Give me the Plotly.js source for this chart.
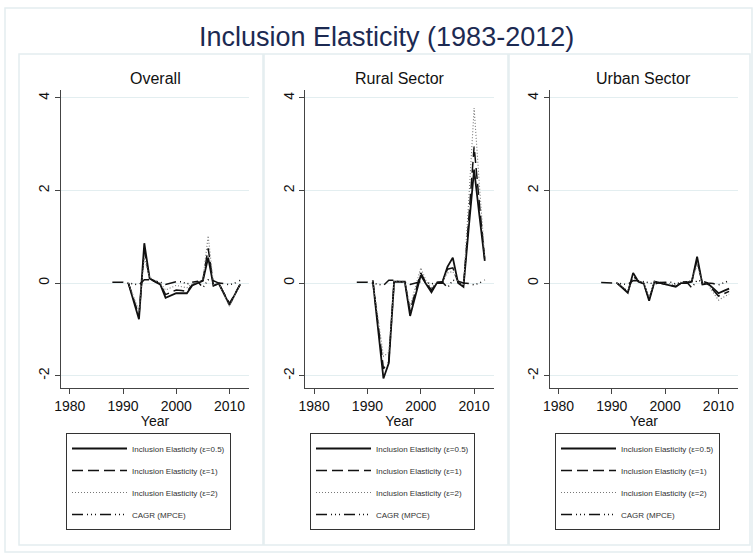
<!DOCTYPE html>
<html>
<head>
<meta charset="utf-8">
<script src="https://cdn.plot.ly/plotly-3.0.1.min.js"></script>
<style>html,body{margin:0;padding:0;background:#fff;}#chart{width:753px;height:553px;}</style>
</head>
<body>
<div id="chart"></div>
<script>
// ---------- data ----------
var years = [1988,1989,1990,1991,1992,1993,1994,1995,1996,1997,1998,1999,2000,2001,2002,2003,2004,2005,2006,2007,2008,2009,2010,2011,2012];

var panelTitles = ["Overall", "Rural Sector", "Urban Sector"];
var seriesNames = ["Inclusion Elasticity (\u03b5=0.5)", "Inclusion Elasticity (\u03b5=1)", "Inclusion Elasticity (\u03b5=2)", "CAGR (MPCE)"];

var overallE05 = [null,null,null, 0.00,-0.40,-0.78,0.86,0.10,0.03,-0.03,-0.32,-0.27,-0.22,-0.22,-0.22,-0.05,0.00,0.05,0.55,-0.06,-0.01,-0.24,-0.47,-0.25,-0.03];
var overallE1  = [null,null,null, 0.00,-0.35,-0.70,0.70,0.10,0.04,-0.02,-0.25,-0.20,-0.15,-0.16,-0.18,-0.04,0.01,0.06,0.75,-0.05,-0.01,-0.22,-0.44,-0.24,-0.03];
var overallE2  = [null,null,null, 0.00,-0.30,-0.60,0.55,0.12,0.06,0.00,-0.15,-0.10,-0.05,-0.08,-0.10,-0.02,0.02,0.08,1.02,-0.03,0.00,-0.25,-0.50,-0.26,-0.02];
var overallCAGR = [0.02,0.02,0.02,0.00,-0.02,-0.04,0.07,0.07,0.04,0.02,-0.03,0.00,0.03,0.03,-0.02,0.02,0.04,-0.10,0.07,0.05,0.00,-0.01,-0.04,0.00,0.06];

var ruralE05 = [null,null,null, 0.06,-1.00,-2.06,-1.73,0.03,0.03,0.03,-0.71,-0.27,0.17,-0.02,-0.20,0.00,0.00,0.35,0.55,0.00,-0.08,1.20,2.45,1.45,0.48];
var ruralE1  = [null,null,null, 0.05,-0.90,-1.85,-1.70,0.03,0.03,0.03,-0.60,-0.20,0.22,0.00,-0.15,0.01,0.01,0.30,0.33,0.02,-0.07,1.40,2.95,1.70,0.50];
var ruralE2  = [null,null,null, 0.04,-0.75,-1.58,-1.50,0.04,0.04,0.04,-0.50,-0.08,0.33,0.05,-0.10,0.02,0.03,0.22,0.25,0.03,-0.05,1.80,3.78,2.10,0.55];
var ruralCAGR = [0.02,0.02,0.02,0.00,-0.03,-0.05,0.06,0.06,0.03,0.02,-0.03,0.00,0.03,0.02,-0.02,0.02,0.03,-0.10,0.06,0.04,0.00,-0.01,-0.04,0.00,0.07];

var urbanE05 = [null,null,null, 0.00,-0.10,-0.21,0.22,0.03,-0.01,-0.38,0.03,0.00,-0.03,-0.06,-0.08,0.00,0.00,0.03,0.57,-0.03,-0.01,-0.11,-0.22,-0.17,-0.12];
var urbanE1  = [null,null,null, 0.00,-0.09,-0.19,0.15,0.04,-0.01,-0.35,0.03,0.00,-0.02,-0.05,-0.07,0.00,0.01,0.04,0.50,-0.02,-0.02,-0.15,-0.28,-0.23,-0.18];
var urbanE2  = [null,null,null, 0.00,-0.08,-0.16,0.10,0.05,0.00,-0.30,0.04,0.02,0.00,-0.02,-0.04,0.02,0.03,0.06,0.40,0.00,-0.03,-0.20,-0.37,-0.30,-0.24];
var urbanCAGR = [0.01,0.01,0.01,0.00,-0.02,-0.03,0.05,0.05,0.03,0.01,-0.02,0.01,0.02,0.02,-0.02,0.02,0.03,-0.10,0.06,0.04,0.00,-0.01,-0.04,0.00,0.05];

var xTicks = [1980, 1990, 2000, 2010];
var yTicks = [-2, 0, 2, 4];

// ---------- build ----------
var W = 753, H = 553;
function px(x){ return x / W; }
function py(y){ return 1 - y / H; }

var styles = [
  {color:'#111', width:1.8, dash:'solid'},
  {color:'#111', width:1.5, dash:'11px,5px'},
  {color:'#777', width:1.1, dash:'1px,2px'},
  {color:'#111', width:1.5, dash:'11px,4px,1px,3px,1px,3px,1px,4px'}
];

var panels = [
  [overallE05, overallE1, overallE2, overallCAGR],
  [ruralE05, ruralE1, ruralE2, ruralCAGR],
  [urbanE05, urbanE1, urbanE2, urbanCAGR]
];

var traces = [];
panels.forEach(function(series, p){
  var ax = p === 0 ? '' : String(p+1);
  series.forEach(function(vals, s){
    traces.push({
      type:'scatter', mode:'lines', x: years, y: vals,
      xaxis:'x'+ax, yaxis:'y'+ax,
      name: seriesNames[s],
      legend: 'legend'+ax,
      legendgroup: 'g'+p+'_'+s,
      line: styles[s],
      connectgaps:false,
      hoverinfo:'skip'
    });
  });
});

var plotL = [61, 305.3, 549.7];
var plotR = [249, 493.7, 738];
var plotT = 90, plotB = 387.7;
var legendX = [66, 310, 555];

var layout = {
  width: W, height: H,
  margin:{l:0,r:0,t:0,b:0},
  paper_bgcolor:'#fff', plot_bgcolor:'#fff',
  font:{family:'"Liberation Sans", Arial, sans-serif', color:'#111'},
  showlegend:true,
  shapes:[], annotations:[]
};

for (var p=0;p<3;p++){
  var ax = p === 0 ? '' : String(p+1);
  layout['xaxis'+ax] = {
    domain:[px(plotL[p]), px(plotR[p])],
    anchor:'y'+ax,
    range:[1978.35, 2013.67],
    tickmode:'array', tickvals:xTicks, ticktext:xTicks.map(String),
    ticks:'outside', ticklen:5, tickwidth:1, tickcolor:'#444',
    showline:true, linecolor:'#444', linewidth:1,
    showgrid:false, zeroline:false,
    tickfont:{size:14, color:'#111'},
    title:{text:'Year', font:{size:14, color:'#111'}, standoff:0}
  };
  layout['yaxis'+ax] = {
    domain:[py(plotB), py(plotT)],
    anchor:'x'+ax,
    range:[-2.26, 4.17],
    tickmode:'array', tickvals:yTicks, ticktext:yTicks.map(String),
    tickangle:-90,
    ticks:'outside', ticklen:5, tickwidth:1, tickcolor:'#444',
    showline:true, linecolor:'#444', linewidth:1,
    showgrid:true, gridcolor:'#e3eef0', gridwidth:1, zeroline:false,
    tickfont:{size:14, color:'#111'}
  };
  layout['legend'+ax] = {
    x: px(legendX[p]), y: py(433), xanchor:'left', yanchor:'top',
    bgcolor:'#fff', bordercolor:'#333', borderwidth:1,
    font:{size:8, color:'#333'},
    itemwidth:55, tracegroupgap:3, traceorder:'grouped'
  };
  layout.annotations.push({
    xref:'paper', yref:'paper', x: px((plotL[p]+plotR[p])/2), y: py(78),
    xanchor:'center', yanchor:'middle', showarrow:false,
    text: panelTitles[p], font:{size:16, color:'#111'}
  });
}

var panelBoxes = [[19,54,263,545],[264,54,508,545],[509,54,750,545]];
panelBoxes.forEach(function(b){
  layout.shapes.push({type:'rect', xref:'paper', yref:'paper', x0:px(b[0]), x1:px(b[2]), y0:py(b[3]), y1:py(b[1]), line:{color:'#e4edf0', width:1.5}, layer:'below'});
});
layout.shapes.push({type:'rect', xref:'paper', yref:'paper', x0:px(5), x1:px(752), y0:py(552), y1:py(8), line:{color:'#e4edf0', width:1.5}, layer:'below'});

layout.annotations.push({
  xref:'paper', yref:'paper', x: px(386), y: py(37), xanchor:'center', yanchor:'middle',
  showarrow:false, text:'Inclusion Elasticity (1983-2012)', font:{size:27, color:'#1c2a52'}
});

Plotly.newPlot('chart', traces, layout, {staticPlot:true, displayModeBar:false});
</script>
</body>
</html>
